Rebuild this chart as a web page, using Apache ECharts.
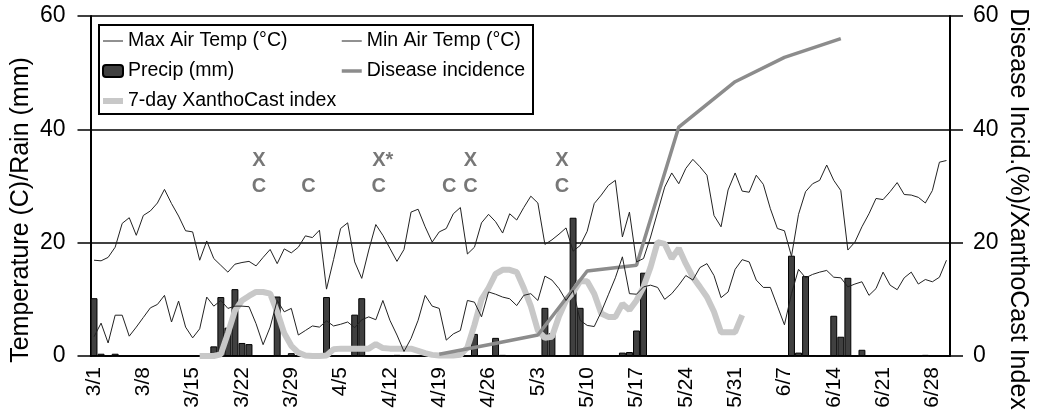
<!DOCTYPE html>
<html>
<head>
<meta charset="utf-8">
<script src="https://cdn.jsdelivr.net/npm/echarts@6/dist/echarts.min.js"></script>
<style>
  html, body { margin: 0; padding: 0; background: #fff; }
  #chart { width: 1041px; height: 417px; }
</style>
</head>
<body>
<div id="chart"></div>
<script>
// Daily dates, 1 March to 30 June
const dates = [];
for (let d = new Date(2000, 2, 1); d <= new Date(2000, 5, 30); d.setDate(d.getDate() + 1)) {
  dates.push((d.getMonth() + 1) + '/' + d.getDate());
}

// Daily maximum air temperature (°C)
const maxTemp = [
  16.9,16.8,17.4,19.2,23.4,24.4,21.3,24.8,25.6,27.0,
  29.4,26.9,24.7,22.1,21.9,16.9,20.3,17.2,16.0,14.8,
  16.2,16.5,16.7,15.9,17.4,18.8,16.3,18.9,18.2,19.2,
  21.2,20.9,22.2,11.8,17.0,22.5,23.5,16.6,13.7,18.7,
  23.2,21.3,19.0,16.7,18.8,25.4,25.9,22.8,20.1,21.9,
  22.5,25.1,26.2,18.0,19.2,23.5,25.0,23.7,21.7,25.1,
  24.0,26.2,28.2,27.0,19.7,20.5,21.5,22.6,18.5,19.5,
  22.0,26.9,28.4,30.1,31.0,21.0,25.4,16.6,17.2,21.0,
  25.4,29.8,32.3,30.4,33.1,34.7,33.4,31.9,24.8,22.8,
  29.3,32.3,29.1,28.9,31.9,30.3,26.0,22.5,22.1,17.6,
  25.0,29.0,30.4,31.0,33.7,31.0,29.2,18.7,20.1,22.8,
  25.1,27.8,27.6,29.0,30.6,28.5,28.4,28.0,27.0,29.2,
  34.2,34.5
];

// Daily minimum air temperature (°C)
const minTemp = [
  3.4,5.8,2.3,7.2,7.2,3.5,5.1,6.8,8.5,9.1,
  10.7,6.0,9.7,5.1,3.2,4.8,10.4,8.8,9.8,8.4,
  8.8,8.8,8.7,5.7,2.0,5.1,9.8,7.8,8.4,3.7,
  4.5,5.3,5.1,6.2,5.3,5.6,6.0,5.0,6.4,6.9,
  6.4,9.8,6.3,3.7,0.8,3.1,6.3,10.7,8.8,8.4,
  2.8,3.9,4.5,9.8,9.5,6.9,11.3,10.9,10.4,10.1,
  8.9,10.7,11.0,9.8,14.1,13.4,11.9,9.8,11.6,6.3,
  5.4,5.2,7.8,10.8,13.8,17.5,11.0,10.9,12.2,12.5,
  12.1,10.0,11.0,12.5,14.2,13.4,15.6,16.3,14.2,10.3,
  11.3,15.3,17.0,16.6,13.4,12.1,12.1,8.8,5.5,11.0,
  15.3,13.8,14.4,14.8,15.1,13.9,13.8,12.2,12.7,13.1,
  10.7,11.9,14.8,12.5,11.7,13.8,14.8,12.7,13.5,13.1,
  13.9,16.9
];

// Daily precipitation (mm)
const precip = [
  10.2,0.4,0,0.4,0,0,0,0,0,0,
  0,0,0,0,0,0,0,1.7,10.4,5.0,
  11.8,2.3,2.1,0,0,0,10.5,0,0.5,0,
  0,0,0,10.4,0,0,0,7.3,10.2,0,
  0,0,0,0.2,0,0,0,0,0,0,
  0,0,0,0,3.9,0,0,3.2,0.2,0,
  0,0,0,0,8.5,4.0,0,0,24.4,8.5,
  0,0,0,0,0,0.6,0.7,4.5,14.7,0,
  0,0,0,0,0,0,0,0,0,0,
  0,0,0,0,0,0,0,0,0,17.7,
  0.6,14.1,0.1,0,0,7.1,3.4,13.8,0,1.1,
  0,0,0,0,0,0,0,0,0.2,0,
  0,0
];

// 7-day XanthoCast index (null where not computed)
const xanthoCast = [
  null,null,null,null,null,null,null,null,null,null,
  null,null,null,null,null,0,0,0,0.3,4.0,
  8.0,9.8,10.6,11.3,11.3,11.0,7.8,4.0,1.8,0.6,
  0.1,0,0,0.1,1.2,1.3,1.3,1.3,1.3,1.3,
  2.1,1.4,1.3,1.3,1.3,1.3,0.9,0.5,0.2,0.1,
  0.1,0.1,0.2,1.5,5.5,10.0,12.0,14.5,15.2,15.2,
  14.8,12.0,8.8,4.5,3.2,3.4,7.0,9.8,11.2,13.2,
  13.2,11.0,7.5,6.9,6.9,9.2,8.1,9.8,12.2,15.7,
  20.1,19.8,17.2,19.0,16.3,13.9,12.2,10.4,7.8,4.2,
  4.2,4.2,7.2,null,null,null,null,null,null,null,
  null,null,null,null,null,null,null,null,null,null,
  null,null,null,null,null,null,null,null,null,null,
  null,null
];

// Disease incidence (%) on assessment dates
const diseaseDates = ['4/19', '4/26', '5/3', '5/10', '5/17', '5/23', '5/31', '6/7', '6/15'];
const diseaseValues = [0.3, 2.0, 3.7, 15.0, 16.0, 40.4, 48.4, 52.7, 56.0];

// Spray application markers
const xSprayDates = ['3/24', '4/10', '4/23', '5/6'];
const xSprayMarks = ['X', 'X*', 'X', 'X'];
const cSprayDates = ['3/24', '3/31', '4/10', '4/20', '4/23', '5/6'];
const cSprayMarks = ['C', 'C', 'C', 'C', 'C', 'C'];

const leftTitle = 'Temperature (C)/Rain (mm)';
const rightTitle = 'Disease Incid.(%)/XanthoCast Index';

const FONT = '"Liberation Sans", Arial, Helvetica, sans-serif';

const disease = dates.map(() => null);
diseaseDates.forEach((d, i) => { disease[dates.indexOf(d)] = diseaseValues[i]; });

// line styles shared by each series and its legend entry
const tempLine = { color: '#222', width: 1 };
const diseaseLine = { color: '#8c8c8c', width: 3.5 };
const xanthoLine = { color: '#c8c8c8', width: 6 };

const chart = echarts.init(document.getElementById('chart'), null, { renderer: 'canvas' });

const yAxisCommon = {
  type: 'value', min: 0, max: 60, interval: 20,
  axisLine: { show: true, lineStyle: { color: '#000', width: 2 } },
  axisTick: { show: true, length: 13, lineStyle: { color: '#000', width: 1.5 } },
  axisLabel: { color: '#000', fontSize: 23, fontFamily: FONT }
};

// line entries in the legend show only the stroke, no point marker
const lineEntry = (name, style) => ({ name: name, itemStyle: { opacity: 0 }, lineStyle: Object.assign({ opacity: 1 }, style) });

const legendCommon = {
  orient: 'vertical', padding: 0, itemWidth: 20, itemHeight: 12, itemGap: 10,
  textStyle: { fontSize: 19.5, color: '#000', fontFamily: FONT, lineHeight: 20 },
  z: 5
};

chart.setOption({
  animation: false,
  backgroundColor: '#fff',
  textStyle: { fontFamily: FONT },
  grid: { left: 90.5, right: 91, top: 16, bottom: 61, containLabel: false },
  xAxis: {
    type: 'category', data: dates, boundaryGap: true,
    axisLine: { lineStyle: { color: '#000', width: 1.5 } },
    axisTick: { alignWithLabel: true, interval: 6, length: 7, lineStyle: { color: '#000', width: 1.5 } },
    axisLabel: { interval: 6, rotate: 90, fontSize: 21, color: '#000', margin: 11, fontFamily: FONT },
    splitLine: { show: false }
  },
  yAxis: [
    Object.assign({}, yAxisCommon, {
      position: 'left',
      axisLabel: Object.assign({}, yAxisCommon.axisLabel, { margin: 25 }),
      splitLine: { show: true, lineStyle: { color: '#000', width: 1.5 } }
    }),
    Object.assign({}, yAxisCommon, {
      position: 'right',
      axisLabel: Object.assign({}, yAxisCommon.axisLabel, { margin: 23 }),
      splitLine: { show: false }
    })
  ],
  legend: [
    Object.assign({}, legendCommon, {
      left: 100, top: 31,
      data: [lineEntry('Max Air Temp (°C)', tempLine), 'Precip (mm)', lineEntry('7-day XanthoCast index', xanthoLine)]
    }),
    Object.assign({}, legendCommon, {
      left: 340, top: 31,
      data: [lineEntry('Min Air Temp (°C)', tempLine), lineEntry('Disease incidence', diseaseLine)]
    })
  ],
  graphic: [
    {
      type: 'rect', z: 4, left: 98, top: 24,
      shape: { width: 434, height: 89 },
      style: { fill: '#fff', stroke: '#000', lineWidth: 2 }
    },
    {
      type: 'text', x: 21, y: 210, rotation: Math.PI / 2,
      style: { text: leftTitle, font: '25px ' + FONT, fill: '#000', textAlign: 'center', textVerticalAlign: 'middle' }
    },
    {
      type: 'text', x: 1018, y: 209, rotation: -Math.PI / 2,
      style: { text: rightTitle, font: '25px ' + FONT, fill: '#000', textAlign: 'center', textVerticalAlign: 'middle' }
    }
  ],
  series: [
    {
      name: 'Precip (mm)', type: 'bar', yAxisIndex: 0, data: precip,
      barCategoryGap: '2%',
      itemStyle: { color: '#404040', borderColor: '#000', borderWidth: 1 }
    },
    {
      name: '7-day XanthoCast index', type: 'line', yAxisIndex: 1, data: xanthoCast,
      symbol: 'none', lineStyle: xanthoLine, itemStyle: { color: xanthoLine.color }
    },
    {
      name: 'Disease incidence', type: 'line', yAxisIndex: 1, data: disease, connectNulls: true,
      symbol: 'none', lineStyle: diseaseLine, itemStyle: { color: diseaseLine.color }
    },
    {
      name: 'Max Air Temp (°C)', type: 'line', yAxisIndex: 0, data: maxTemp,
      symbol: 'none', lineStyle: tempLine, itemStyle: { color: tempLine.color }
    },
    {
      name: 'Min Air Temp (°C)', type: 'line', yAxisIndex: 0, data: minTemp,
      symbol: 'none', lineStyle: tempLine, itemStyle: { color: tempLine.color }
    },
    {
      name: 'X sprays', type: 'scatter', yAxisIndex: 0, symbolSize: 0, silent: true,
      data: xSprayDates.map((d, i) => ({ value: [d, 34.5], label: { formatter: xSprayMarks[i] } })),
      label: { show: true, position: 'inside', align: 'left', offset: [-3.7, 0],
               color: '#555', fontSize: 20, fontWeight: 'bold', fontFamily: FONT }
    },
    {
      name: 'C sprays', type: 'scatter', yAxisIndex: 0, symbolSize: 0, silent: true,
      data: cSprayDates.map((d, i) => ({ value: [d, 30.0], label: { formatter: cSprayMarks[i] } })),
      label: { show: true, position: 'inside', align: 'center', offset: [3, 0],
               color: '#555', fontSize: 20, fontWeight: 'bold', fontFamily: FONT }
    }
  ]
});
</script>
</body>
</html>
